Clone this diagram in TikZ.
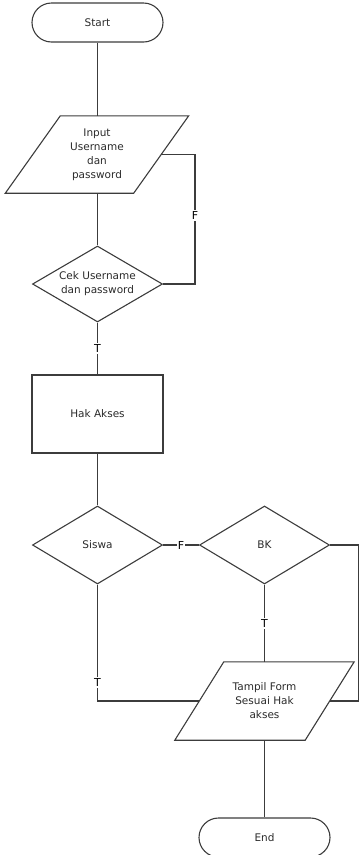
\documentclass[tikz,border=0pt]{standalone}
\usepackage{fontspec}
\setmainfont{DejaVu Sans}
\usetikzlibrary{shapes.geometric,shapes.misc}
\definecolor{ink}{HTML}{3C3C3C}
\definecolor{txt}{HTML}{2A2A2A}
\tikzset{
  every node/.style={text=txt, font=\fontsize{10.5}{14}\selectfont},
  flow/.style={draw=ink, line width=1.1pt},
  terminal/.style={flow, rounded rectangle, minimum width=131pt, minimum height=39pt, inner sep=0pt},
  process/.style={flow, rectangle, minimum width=131pt, minimum height=78pt, inner sep=0pt},
  decision/.style={flow, diamond, minimum width=130pt, minimum height=78pt, inner sep=0pt},
  iobody/.style={rectangle, align=center, inner sep=0pt},
  link/.style={draw=ink, line width=1.1pt},
  tag/.style={fill=white, inner sep=1.5pt, text=black, font=\fontsize{11}{13}\selectfont}
}
\begin{document}
\begin{tikzpicture}[x=1pt,y=-1pt]
\useasboundingbox (0,0) rectangle (360,855);

% terminals and process box
\node[terminal] (start) at (97.5,22.5) {Start};
\node[process] (hak) at (97.5,414) {Hak Akses};
\node[terminal] (end) at (264.5,837.5) {End};

% input/output parallelograms: text body plus slanted outline
\node[iobody, minimum width=128pt, minimum height=77pt] (input) at (97,154.5)
  {Input\\Username\\dan\\password};
\draw[flow] ([xshift=27.5pt]input.north west) -- ([xshift=27.5pt]input.north east)
  -- ([xshift=-27.5pt]input.south east) -- ([xshift=-27.5pt]input.south west) -- cycle;

\node[iobody, minimum width=130pt, minimum height=78pt] (tampil) at (264.5,701)
  {Tampil Form\\Sesuai Hak\\akses};
\draw[flow] ([xshift=24.5pt]tampil.north west) -- ([xshift=24.5pt]tampil.north east)
  -- ([xshift=-24.5pt]tampil.south east) -- ([xshift=-24.5pt]tampil.south west) -- cycle;

% decisions
\node[decision, minimum height=76pt,
  label={[align=center]center:Cek Username\\dan password}] (cek) at (97.5,284) {};
\node[decision, label={center:Siswa}] (siswa) at (97.5,545) {};
\node[decision, label={center:BK}] (bk) at (264.5,545) {};

% loop points
\coordinate (floop) at (195,0);
\coordinate (rloop) at (358.5,0);

% connectors
\draw[link] (start.south) -- (start.south |- input.north);
\draw[link] (input.south -| cek.north) -- (cek.north);
\draw[link] (input.east) -- (input.east -| floop)
  -- node[tag, pos=0.47] {F} (cek.east -| floop) -- (cek.east);
\draw[link] (cek.south) -- node[tag, pos=0.5] {T} (hak.north);
\draw[link] (hak.south) -- (siswa.north);
\draw[link] (siswa.east) -- node[tag, pos=0.5, inner sep=0.5pt] {F} (bk.west);
\draw[link] (bk.south) -- node[tag, pos=0.5] {T} (bk.south |- tampil.north);
\draw[link] (siswa.south) -- node[tag, pos=0.84] {T} (siswa.south |- tampil.west) -- (tampil.west);
\draw[link] (bk.east) -- (bk.east -| rloop) -- (tampil.east -| rloop) -- (tampil.east);
\draw[link] (tampil.south) -- (end.north);
\end{tikzpicture}
\end{document}
